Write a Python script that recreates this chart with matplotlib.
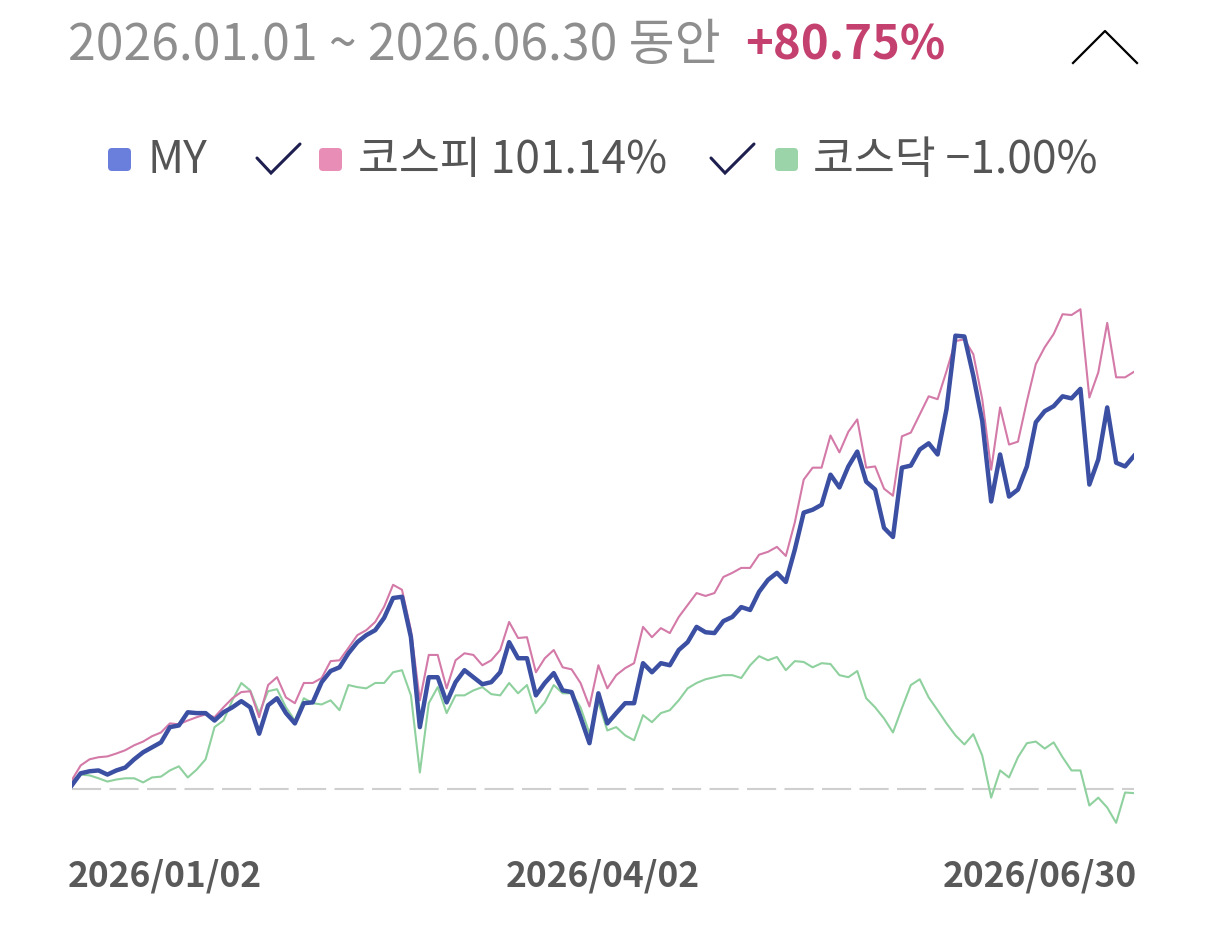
import matplotlib.pyplot as plt
from matplotlib.patches import FancyBboxPatch
import numpy as np

plt.rcParams['font.family'] = ['Noto Sans CJK KR', 'DejaVu Sans']

# daily cumulative returns (%), 2026/01/02 .. 2026/06/30
my_ret = [
    0.85, 3.8, 4.3, 4.5, 3.5, 4.5, 5.2, 7.2, 8.9, 10.1, 11.3, 15.0, 15.4, 18.6, 18.4,
    18.4, 16.6, 18.6, 19.8, 21.3, 19.8, 13.4, 20.3, 22.0, 18.4, 15.9, 20.8, 21.0, 25.9, 28.6,
    29.5, 32.9, 35.6, 37.3, 38.5, 41.5, 46.3, 46.6, 36.8, 15.0, 27.1, 27.1, 21.0, 25.9, 28.8,
    27.1, 25.4, 25.9, 28.3, 35.6, 31.7, 31.7, 22.7, 25.7, 28.1, 23.9, 23.5, 17.4, 11.1,
    23.2, 15.9, 18.4, 20.8, 20.8, 30.5, 28.3, 30.5, 30.0, 33.7, 35.6, 39.3, 38.0, 37.8, 40.7,
    41.7, 44.1, 43.4, 47.8, 50.7, 52.4, 50.2, 58.0, 67.0, 67.7, 68.9, 76.2, 73.1, 78.2,
    81.8, 74.5, 72.6, 63.3, 61.1, 77.9, 78.4, 82.3, 83.8, 81.1, 92.1, 109.9, 109.7, 100.2, 89.2,
    69.7, 81.1, 70.9, 72.6, 78.2, 88.9, 91.6, 92.8, 95.2, 94.7, 97.0, 73.8, 79.9, 92.5, 79.1,
    78.2, 80.75,
]
kospi_ret = [
    2.1, 5.7, 7.2, 7.7, 7.9, 8.6, 9.4, 10.6, 11.5, 12.8, 13.7, 15.9, 15.7, 16.6, 17.4,
    18.1, 17.4, 19.8, 22.0, 23.5, 23.7, 17.4, 25.2, 27.1, 22.2, 20.8, 25.7, 25.7, 26.9, 31.0,
    31.2, 34.2, 37.3, 38.5, 40.5, 44.2, 49.5, 48.3, 38.5, 21.5, 32.5, 32.5, 24.4, 31.2, 32.9,
    32.5, 30.0, 31.2, 33.7, 40.5, 36.6, 36.8, 28.3, 31.7, 33.7, 29.5, 29.0, 25.7, 20.0,
    30.0, 24.4, 27.6, 29.3, 30.5, 39.3, 36.8, 39.0, 37.8, 41.7, 44.6, 47.5, 46.8, 47.5, 51.4,
    52.4, 53.6, 53.6, 56.8, 57.5, 58.7, 56.5, 64.6, 75.0, 77.9, 77.9, 85.7, 81.6, 86.6,
    89.6, 77.9, 78.2, 72.8, 71.1, 85.5, 86.4, 90.8, 95.2, 94.5, 101.3, 108.6, 109.0, 105.4, 94.5,
    77.4, 92.5, 83.5, 84.2, 94.0, 103.0, 107.1, 110.3, 115.1, 114.9, 116.3, 94.9, 101.0, 113.0, 99.8,
    99.8, 101.14,
]
kosdaq_ret = [
    2.1, 3.5, 3.3, 2.6, 1.8, 2.3, 2.6, 2.6, 1.6, 2.8, 3.0, 4.5, 5.5, 2.8, 4.7,
    7.2, 15.0, 16.6, 21.5, 25.7, 23.9, 18.4, 23.7, 24.2, 19.8, 16.6, 22.0, 20.8, 20.5, 21.5,
    19.1, 25.2, 24.7, 24.4, 25.7, 25.7, 28.3, 28.8, 22.7, 4.0, 20.8, 24.7, 18.4, 22.7, 22.7,
    23.9, 24.7, 23.0, 22.7, 25.7, 23.2, 25.2, 18.4, 21.0, 25.2, 23.2, 23.2, 19.8, 13.5,
    21.0, 14.2, 15.0, 13.0, 11.8, 17.9, 16.2, 18.4, 19.1, 21.5, 24.4, 25.7, 26.6, 27.1, 27.6,
    27.6, 26.9, 30.0, 32.2, 31.2, 32.0, 28.8, 31.0, 30.8, 29.5, 30.5, 30.3, 27.6, 27.1,
    28.6, 22.0, 19.8, 17.1, 13.7, 19.6, 25.2, 26.6, 22.2, 19.1, 15.9, 13.0, 10.8, 13.3, 8.1,
    -2.1, 4.5, 2.8, 7.7, 11.1, 11.5, 9.8, 11.3, 7.7, 4.5, 4.5, -4.0, -2.1, -4.5, -8.2,
    -0.85, -1.00,
]

period_text = "2026.01.01 ~ 2026.06.30 동안"
total_text = "+80.75%"
legend_labels = ["MY", "코스피 101.14%", "코스닥 −1.00%"]
tick_labels = ["2026/01/02", "2026/04/02", "2026/06/30"]

W, H = 1206, 925
fig = plt.figure(figsize=(W / 100, H / 100), dpi=100)
fig.patch.set_facecolor('white')

# main chart area (pixel box -> figure fraction)
left, right, top_px, bot_px = 71.7, 1134, 294, 838.5
ax = fig.add_axes([left / W, 1 - bot_px / H, (right - left) / W, (bot_px - top_px) / H])
x = np.arange(len(my_ret))
ax.axhline(0, color='#cfcfcf', lw=1.5, dashes=(14, 4), zorder=1)
ax.plot(x, kosdaq_ret, color='#8fd19e', lw=1.5, zorder=2)
ax.plot(x, kospi_ret, color='#d47aa8', lw=1.5, zorder=3)
ax.plot(x, my_ret, color='#3b4fa3', lw=3.2, zorder=4)
ax.set_xlim(0, len(x) - 1)
ax.set_ylim(-12, 120)
ax.axis('off')

tick_pos = [0, (len(x) - 1) / 2, len(x) - 1]
tick_shift = [-0.4, 0, 0.35]
for pos, sh, lab, ha in zip(tick_pos, tick_shift, tick_labels, ['left', 'center', 'right']):
    ax.text(pos + sh, -0.069, lab, transform=ax.get_xaxis_transform(), ha=ha, va='center',
            fontsize=25.5, fontweight='bold', color='#595959', clip_on=False)

# overlay in pixel units for header + legend
ov = fig.add_axes([0, 0, 1, 1])
ov.set_xlim(0, W)
ov.set_ylim(H, 0)
ov.axis('off')

ov.text(68, 46, period_text, fontsize=36, color='#8e8e8e', ha='left', va='center')
ov.text(745, 46, total_text, fontsize=34, fontweight='bold', color='#c4406f', ha='left', va='center')
ov.plot([1073, 1105, 1137], [63, 31, 63], color='black', lw=1.6)

box_colors = ['#6a7fdc', '#e88db5', '#9bd4a8']
box_x = [108, 319, 775]
text_x = [148, 358, 813]
for bx, tx, col, lab in zip(box_x, text_x, box_colors, legend_labels):
    ov.add_patch(FancyBboxPatch((bx, 148), 23, 23, boxstyle='round,pad=0,rounding_size=4',
                                facecolor=col, edgecolor='none'))
    ov.text(tx, 160, lab, fontsize=32, color='#555555', ha='left', va='center')

for cx in [257, 711]:
    ov.plot([cx, cx + 14, cx + 43], [158, 173, 144], color='#1e1f4f', lw=2.2,
            solid_capstyle='round', solid_joinstyle='miter')

fig.savefig('out.png', dpi=100, facecolor='white')
